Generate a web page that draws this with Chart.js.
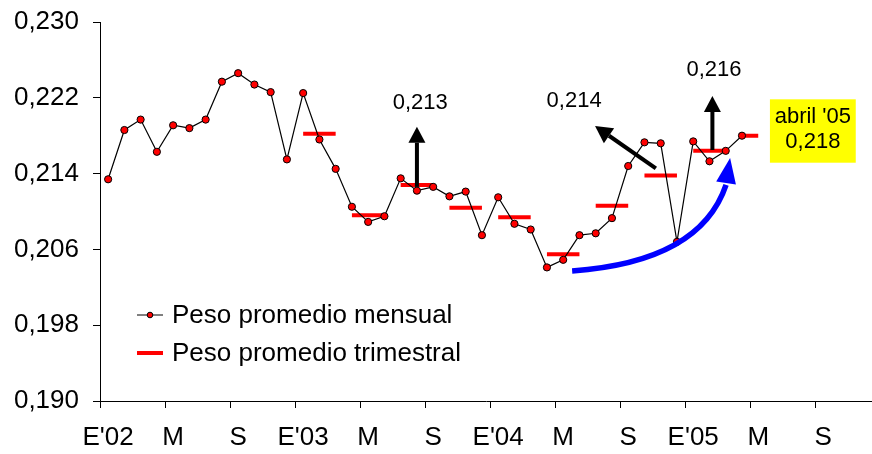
<!DOCTYPE html>
<html lang="es">
<head>
<meta charset="UTF-8">
<title>Peso promedio</title>
<script src="https://cdn.jsdelivr.net/npm/chart.js@4.4.1/dist/chart.umd.min.js"></script>
<style>
  html, body { margin: 0; padding: 0; background: #fff; }
  #wrap { width: 872px; height: 454px; position: relative; }
</style>
</head>
<body>
<div id="wrap"><canvas id="grafico"></canvas></div>
<script>
  // meses desde enero 2002 (indice 0) hasta abril 2005 (indice 39)
  const pesoMensual = [
    0.2134, 0.2186, 0.2197, 0.2163, 0.2191, 0.2188, 0.2197, 0.2237, 0.2246, 0.2234, 0.2226, 0.2155,
    0.2225, 0.2176, 0.2145, 0.2105, 0.2089, 0.2095, 0.2135, 0.2122, 0.2126, 0.2116, 0.2121, 0.2075,
    0.2115, 0.2087, 0.2081, 0.2041, 0.2049, 0.2075, 0.2077, 0.2093, 0.2148, 0.2173, 0.2172, 0.2068,
    0.2174, 0.2153, 0.2164, 0.2180
  ];

  // trimestres desde Q1'03
  const trimestreDesde = [12, 15, 18, 21, 24, 27, 30, 33, 36, 39];
  const trimestreHasta = [14, 17, 20, 23, 26, 29, 32, 35, 38, 40];
  const pesoTrimestral = [0.2182, 0.2096, 0.2128, 0.2104, 0.2094, 0.2055, 0.2106, 0.2138, 0.2164, 0.2180];

  const etiquetasX = ["E'02", 'M', 'S', "E'03", 'M', 'S', "E'04", 'M', 'S', "E'05", 'M', 'S'];
  const marcasX = [-0.5, 3.5, 7.5, 11.5, 15.5, 19.5, 23.5, 27.5, 31.5, 35.5, 39.5, 43.5];
  const marcasY = [0.190, 0.198, 0.206, 0.214, 0.222, 0.230];

  const leyenda = ['Peso promedio mensual', 'Peso promedio trimestral'];

  const FUENTE = '"Liberation Sans", Arial, sans-serif';

  const datosMensual = pesoMensual.map((v, i) => ({ x: i, y: v }));
  const datosTrimestral = [];
  for (let i = 0; i < pesoTrimestral.length; i++) {
    datosTrimestral.push({ x: trimestreDesde[i], y: pesoTrimestral[i] });
    datosTrimestral.push({ x: trimestreHasta[i], y: pesoTrimestral[i] });
    datosTrimestral.push({ x: trimestreHasta[i] + 0.5, y: null });
  }

  function flecha(ctx, x1, y1, x2, y2, color, grosor, largoPunta, anchoPunta) {
    const ang = Math.atan2(y2 - y1, x2 - x1);
    const bx = x2 - Math.cos(ang) * largoPunta;
    const by = y2 - Math.sin(ang) * largoPunta;
    ctx.save();
    ctx.strokeStyle = color;
    ctx.fillStyle = color;
    ctx.lineWidth = grosor;
    ctx.beginPath();
    ctx.moveTo(x1, y1);
    ctx.lineTo(bx, by);
    ctx.stroke();
    ctx.beginPath();
    ctx.moveTo(x2, y2);
    ctx.lineTo(bx + Math.sin(ang) * anchoPunta / 2, by - Math.cos(ang) * anchoPunta / 2);
    ctx.lineTo(bx - Math.sin(ang) * anchoPunta / 2, by + Math.cos(ang) * anchoPunta / 2);
    ctx.closePath();
    ctx.fill();
    ctx.restore();
  }

  const anotaciones = {
    id: 'anotaciones',
    afterDatasetsDraw(chart) {
      const ctx = chart.ctx;
      const sx = chart.scales.x, sy = chart.scales.y;
      const px = v => sx.getPixelForValue(v);
      const py = v => sy.getPixelForValue(v);

      ctx.save();
      ctx.fillStyle = '#000';
      ctx.font = '22px ' + FUENTE;
      ctx.textAlign = 'center';
      ctx.textBaseline = 'middle';

      // 0,213
      ctx.fillText('0,213', px(19.2), py(0.22145));
      flecha(ctx, px(19), py(0.2126), px(19), py(0.21895), '#000', 4, 16, 17);

      // 0,214
      ctx.fillText('0,214', px(28.67), py(0.22166));
      flecha(ctx, px(33.7), py(0.21456), px(29.96), py(0.21902), '#000', 4, 17, 18);

      // 0,216
      ctx.fillText('0,216', px(37.28), py(0.22493));
      flecha(ctx, px(37.18), py(0.21649), px(37.18), py(0.22219), '#000', 4, 16, 17);

      // flecha azul curva
      const s = { x: px(28.55), y: py(0.20372) };
      const c = { x: px(36.42), y: py(0.20467) };
      const e = { x: px(38.02), y: py(0.21301) };
      const t = { x: px(38.27), y: py(0.21565) };
      ctx.strokeStyle = '#0000ff';
      ctx.fillStyle = '#0000ff';
      ctx.lineWidth = 5.5;
      ctx.beginPath();
      ctx.moveTo(s.x, s.y);
      ctx.quadraticCurveTo(c.x, c.y, e.x, e.y + 2);
      ctx.stroke();
      const ang = Math.atan2(t.y - e.y, t.x - e.x);
      ctx.beginPath();
      ctx.moveTo(t.x, t.y);
      ctx.lineTo(e.x + Math.sin(ang) * 10, e.y - Math.cos(ang) * 10);
      ctx.lineTo(e.x - Math.sin(ang) * 10, e.y + Math.cos(ang) * 10);
      ctx.closePath();
      ctx.fill();

      // recuadro amarillo abril '05
      const x0 = px(40.72), x1 = px(46.0), y0 = py(0.22184), y1 = py(0.21515);
      ctx.fillStyle = '#ffff00';
      ctx.fillRect(x0, y0, x1 - x0, y1 - y0);
      ctx.fillStyle = '#000';
      ctx.fillText("abril '05", (x0 + x1) / 2, py(0.2200));
      ctx.fillText('0,218', (x0 + x1) / 2, py(0.2173));

      // leyenda
      ctx.font = '26px ' + FUENTE;
      ctx.textAlign = 'left';
      ctx.strokeStyle = '#000';
      ctx.lineWidth = 1;
      ctx.beginPath();
      ctx.moveTo(137, 315);
      ctx.lineTo(163, 315);
      ctx.stroke();
      ctx.beginPath();
      ctx.arc(150, 315, 2.8, 0, Math.PI * 2);
      ctx.fillStyle = '#ff0000';
      ctx.fill();
      ctx.stroke();
      ctx.strokeStyle = '#ff0000';
      ctx.lineWidth = 4;
      ctx.beginPath();
      ctx.moveTo(137, 353);
      ctx.lineTo(163, 353);
      ctx.stroke();
      ctx.fillStyle = '#000';
      ctx.fillText(leyenda[0], 172, 316);
      ctx.fillText(leyenda[1], 172, 354);
      ctx.restore();
    }
  };

  new Chart(document.getElementById('grafico'), {
    type: 'line',
    data: {
      datasets: [
        {
          label: leyenda[0],
          data: datosMensual,
          borderColor: '#000',
          borderWidth: 1.2,
          pointRadius: 3.6,
          pointBackgroundColor: '#ff0000',
          pointBorderColor: '#000',
          pointBorderWidth: 1,
          tension: 0,
          order: 0
        },
        {
          label: leyenda[1],
          data: datosTrimestral,
          borderColor: '#ff0000',
          borderWidth: 4,
          borderCapStyle: 'butt',
          pointRadius: 0,
          spanGaps: false,
          tension: 0,
          order: 1
        }
      ]
    },
    options: {
      responsive: true,
      maintainAspectRatio: false,
      animation: false,
      devicePixelRatio: 1,
      layout: { autoPadding: false, padding: { top: 22, left: 0, right: 0, bottom: 0 } },
      plugins: { legend: { display: false }, tooltip: { enabled: false } },
      scales: {
        x: {
          type: 'linear',
          min: -0.5,
          max: 47,
          afterBuildTicks: eje => { eje.ticks = marcasX.map(v => ({ value: v })); },
          afterFit: eje => { eje.height = 53; eje.paddingLeft = 0; eje.paddingRight = 0; },
          grid: { drawOnChartArea: false, drawTicks: true, tickLength: 7, color: '#000' },
          border: { display: true, color: '#000', width: 1 },
          ticks: {
            autoSkip: false,
            maxRotation: 0,
            padding: 14,
            labelOffset: 8.1,
            color: '#000',
            font: { family: FUENTE, size: 26 },
            callback: (v, i) => etiquetasX[i]
          }
        },
        y: {
          min: 0.19,
          max: 0.23,
          afterBuildTicks: eje => { eje.ticks = marcasY.map(v => ({ value: v })); },
          afterFit: eje => { eje.width = 100; eje.paddingTop = 0; eje.paddingBottom = 0; },
          grid: { drawOnChartArea: false, drawTicks: true, tickLength: 7, color: '#000' },
          border: { display: true, color: '#000', width: 1 },
          ticks: {
            padding: 14,
            color: '#000',
            font: { family: FUENTE, size: 26 },
            callback: v => v.toFixed(3).replace('.', ',')
          }
        }
      }
    },
    plugins: [anotaciones]
  });
</script>
</body>
</html>
